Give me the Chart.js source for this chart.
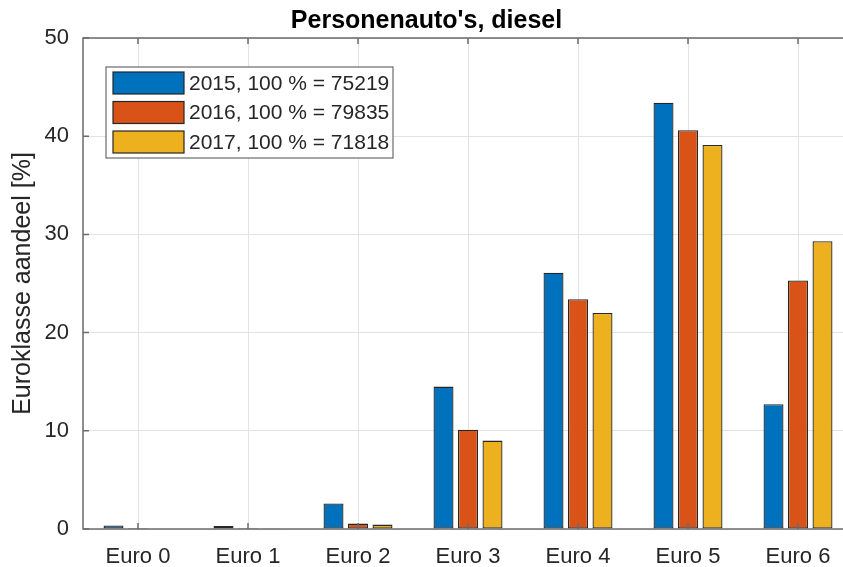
<!DOCTYPE html>
<html>
<head>
<meta charset="utf-8">
<script src="https://cdn.jsdelivr.net/npm/chart.js@4.4.0/dist/chart.umd.min.js"></script>
<style>
  html, body { margin: 0; padding: 0; background: #fff; overflow: hidden; }
  #wrap { width: 843px; height: 567px; overflow: hidden; }
</style>
</head>
<body>
<div id="wrap"><canvas id="c" width="856" height="567"></canvas></div>
<script>
// data
const categories = ['Euro 0', 'Euro 1', 'Euro 2', 'Euro 3', 'Euro 4', 'Euro 5', 'Euro 6'];
const labels = ['2015, 100 % = 75219', '2016, 100 % = 79835', '2017, 100 % = 71818'];
const share2015 = [0.35, 0.3, 2.6, 14.5, 26.1, 43.4, 12.7];
const share2016 = [0.1, 0.1, 0.55, 10.1, 23.4, 40.6, 25.3];
const share2017 = [0.05, 0.02, 0.45, 9.0, 22.0, 39.1, 29.3];
const yTicks = [0, 10, 20, 30, 40, 50];

const colors = ['#0072BD', '#D95319', '#EDB120'];
const fontName = 'Liberation Sans, Arial, Helvetica, sans-serif';

// matlab style box with inward ticks
const framePlugin = {
    id: 'frame',
    afterDatasetsDraw(chart) {
        const {ctx, chartArea: a, scales} = chart;
        ctx.save();
        ctx.strokeStyle = '#6b6b6b';
        ctx.lineWidth = 1.5;
        ctx.strokeRect(a.left, a.top, a.right - a.left, a.bottom - a.top);
        ctx.beginPath();
        scales.x.ticks.forEach((t, i) => {
            const x = scales.x.getPixelForTick(i);
            ctx.moveTo(x, a.bottom); ctx.lineTo(x, a.bottom - 6);
            ctx.moveTo(x, a.top); ctx.lineTo(x, a.top + 6);
        });
        scales.y.ticks.forEach((t, i) => {
            const y = scales.y.getPixelForTick(i);
            ctx.moveTo(a.left, y); ctx.lineTo(a.left + 6, y);
            ctx.moveTo(a.right, y); ctx.lineTo(a.right - 6, y);
        });
        ctx.stroke();
        ctx.restore();
    }
};

// legend box inside the axes, upper left
const boxLegend = {
    id: 'boxLegend',
    afterDraw(chart) {
        const {ctx} = chart;
        const x0 = 106, y0 = 67, w = 287, h = 91;
        ctx.save();
        ctx.fillStyle = '#fff';
        ctx.fillRect(x0, y0, w, h);
        ctx.strokeStyle = '#6b6b6b';
        ctx.lineWidth = 1.2;
        ctx.strokeRect(x0, y0, w, h);
        ctx.font = '21px ' + fontName;
        ctx.textBaseline = 'middle';
        chart.data.datasets.forEach((ds, i) => {
            const y = y0 + 5 + i * 29.5;
            ctx.fillStyle = ds.backgroundColor;
            ctx.fillRect(x0 + 7, y, 71, 22);
            ctx.strokeStyle = '#262626';
            ctx.lineWidth = 1.2;
            ctx.strokeRect(x0 + 7, y, 71, 22);
            ctx.fillStyle = '#262626';
            ctx.fillText(ds.label, x0 + 83, y + 12);
        });
        ctx.restore();
    }
};

const mk = (label, data, i) => ({
    label: label,
    data: data,
    backgroundColor: colors[i],
    borderColor: '#262626',
    borderWidth: 1.3,
    borderSkipped: false,
    categoryPercentage: 0.668,
    barPercentage: 0.816
});

new Chart(document.getElementById('c'), {
    type: 'bar',
    data: {
        labels: categories,
        datasets: [mk(labels[0], share2015, 0), mk(labels[1], share2016, 1), mk(labels[2], share2017, 2)]
    },
    options: {
        responsive: false,
        animation: false,
        layout: {padding: {left: 0, right: 3, top: 0, bottom: 0}},
        plugins: {
            legend: {display: false},
            tooltip: {enabled: false},
            title: {
                display: true,
                text: "Personenauto's, diesel",
                color: '#000',
                font: {family: fontName, size: 25, weight: 'bold'},
                padding: {top: 6, bottom: 2}
            }
        },
        scales: {
            x: {
                grid: {color: '#e3e3e3', offset: false, drawTicks: false},
                border: {display: false},
                ticks: {color: '#262626', font: {family: fontName, size: 22}, padding: 15},
                afterFit(s) { s.height = 38; }
            },
            y: {
                min: 0,
                max: 50,
                afterBuildTicks(s) { s.ticks = yTicks.map(v => ({value: v})); },
                grid: {color: '#e3e3e3', drawTicks: false},
                border: {display: false},
                ticks: {color: '#262626', font: {family: fontName, size: 22}, padding: 14},
                title: {
                    display: true,
                    text: 'Euroklasse aandeel [%]',
                    color: '#262626',
                    font: {family: fontName, size: 25},
                    padding: {top: 8, bottom: 0}
                },
                afterFit(s) { s.width = 83; }
            }
        }
    },
    plugins: [framePlugin, boxLegend]
});
</script>
</body>
</html>
